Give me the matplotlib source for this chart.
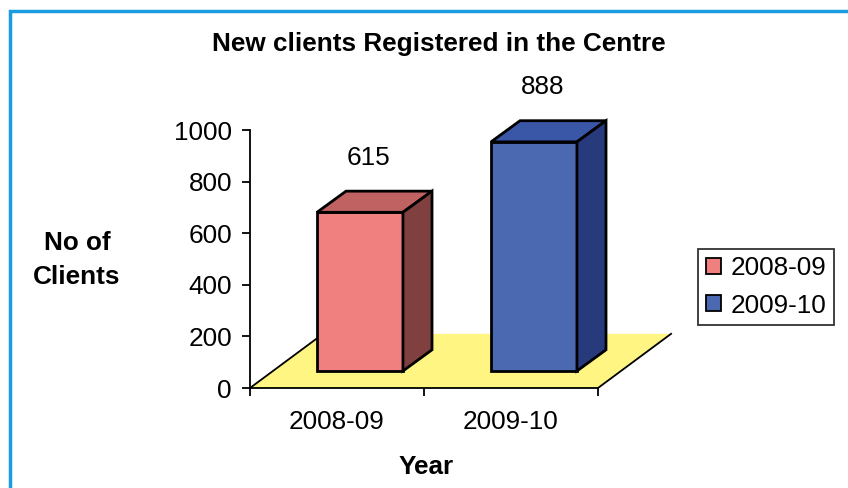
import matplotlib
matplotlib.use("Agg")
import matplotlib.pyplot as plt
from matplotlib.patches import Polygon, Patch, Rectangle
from matplotlib.lines import Line2D

plt.rcParams['font.family'] = ['Liberation Sans', 'DejaVu Sans']

categories = ["2008-09", "2009-10"]
values = [615, 888]
series_labels = ["2008-09", "2009-10"]
title = "New clients Registered in the Centre"
ylabel = "No of\nClients"
xlabel = "Year"
yticks = [0, 200, 400, 600, 800, 1000]

front_colors = ["#F08080", "#4A69B0"]
top_colors = ["#C06262", "#3A56A6"]
side_colors = ["#804040", "#263A7C"]
floor_color = "#FFF582"

FS = 18.8

W, H = 848, 488
fig = plt.figure(figsize=(W / 100, H / 100), dpi=100)
fig.patch.set_facecolor("white")

# blue frame
fig.patches.append(Rectangle((9.5 / W, -0.1), 1.2, 1 - 11.5 / H + 0.1,
                             transform=fig.transFigure, fill=False,
                             edgecolor="#1C9CE0", linewidth=2.5))

ax = fig.add_axes([250 / W, 1 - 388 / H, 348 / W, 258 / H])
ax.set_xlim(-0.5, 1.5)
ax.set_ylim(0, 1000)
for s in ["top", "right"]:
    ax.spines[s].set_visible(False)
for s in ["left", "bottom"]:
    ax.spines[s].set_linewidth(1.3)
    ax.spines[s].set_zorder(5)
ax.patch.set_alpha(0)

ax.set_yticks(yticks)
ax.set_yticklabels([str(t) for t in yticks])
ax.set_xticks([-0.5, 0.5, 1.5])
ax.set_xticklabels([])
ax.set_xticks([0, 1], minor=True)
ax.set_xticklabels(categories, minor=True)
ax.tick_params(axis="x", which="minor", length=0, pad=16, labelsize=FS)
ax.tick_params(axis="both", which="major", direction="out", length=6, width=1.3, labelsize=FS)
ax.tick_params(axis="y", pad=7)

# depth geometry (data units)
floor_dx, floor_dy = 0.42, 210
gap_dx, gap_dy = 0.132, 66
bar_dx, bar_dy = 0.167, 82
bar_w = 0.494

# floor
floor = Polygon([(-0.5, 0), (1.5, 0), (1.5 + floor_dx, floor_dy), (-0.5 + floor_dx, floor_dy)],
                closed=True, facecolor=floor_color, edgecolor="none", clip_on=False, zorder=1)
ax.add_patch(floor)
ax.add_line(Line2D([-0.5, -0.5 + floor_dx], [0, floor_dy], color="black", lw=1.3, clip_on=False, zorder=2))
ax.add_line(Line2D([1.5, 1.5 + floor_dx], [0, floor_dy], color="black", lw=1.3, clip_on=False, zorder=2))

for i, v in enumerate(values):
    x0 = i - bar_w / 2 + gap_dx
    x1 = x0 + bar_w
    y0 = gap_dy
    y1 = gap_dy + v
    kw = dict(closed=True, edgecolor="black", linewidth=2.0, joinstyle="miter", clip_on=False, zorder=3)
    ax.add_patch(Polygon([(x0, y0), (x1, y0), (x1, y1), (x0, y1)], facecolor=front_colors[i], **kw))
    ax.add_patch(Polygon([(x0, y1), (x1, y1), (x1 + bar_dx, y1 + bar_dy), (x0 + bar_dx, y1 + bar_dy)],
                         facecolor=top_colors[i], **kw))
    ax.add_patch(Polygon([(x1, y0), (x1 + bar_dx, y0 + bar_dy), (x1 + bar_dx, y1 + bar_dy), (x1, y1)],
                         facecolor=side_colors[i], **kw))
    ax.text(i + gap_dx + 0.05, y1 + bar_dy + 130, str(v), ha="center", va="center",
            fontsize=FS, clip_on=False)

fig.text(439 / W, 1 - 44 / H, title, ha="center", va="center", fontsize=FS, fontweight="bold")
fig.text(77 / W, 1 - 260 / H, ylabel, ha="center", va="center", fontsize=FS,
         fontweight="bold", linespacing=1.5)
fig.text(426 / W, 1 - 467 / H, xlabel, ha="center", va="center", fontsize=FS, fontweight="bold")

handles = [Patch(facecolor=front_colors[i], edgecolor="black", linewidth=1.3) for i in range(len(values))]
leg = fig.legend(handles, series_labels, loc="center", bbox_to_anchor=(766 / W, 1 - 287 / H),
                 frameon=True, fancybox=False, fontsize=FS, handlelength=0.57, handleheight=0.57,
                 handletextpad=0.35, labelspacing=0.5, borderpad=0.3, borderaxespad=0)
leg.get_frame().set_edgecolor("black")
leg.get_frame().set_linewidth(1.3)

fig.savefig("out.png", dpi=100)
